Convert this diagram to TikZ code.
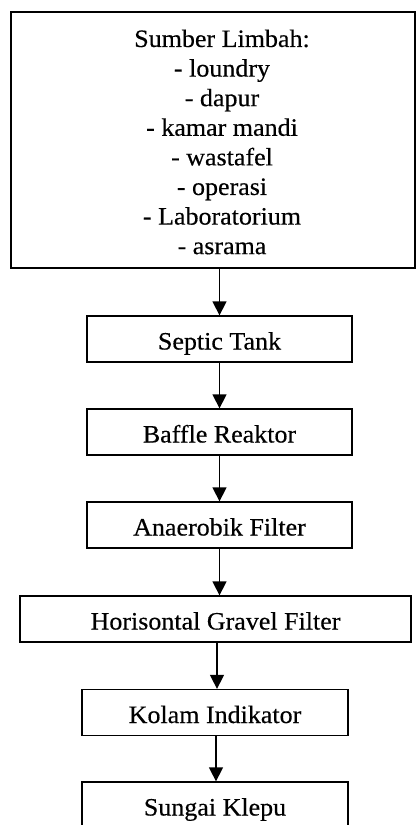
\documentclass[tikz,border=0pt]{standalone}
\usepackage{fontspec}
\setmainfont[FakeStretch=1.04,FakeBold=0.4]{Liberation Serif}
\usetikzlibrary{arrows.meta}
\begin{document}
\begin{tikzpicture}[x=1pt,y=-1pt,
  lbl/.style={font=\fontsize{25}{29.6}\selectfont},
  box/.style={draw, line width=1.3pt, minimum height=46pt, inner sep=0pt,
    text height=21pt, text depth=0pt, lbl},
  flow/.style={-{Triangle[length=14pt,width=14pt]}, line width=1.4pt}]
\useasboundingbox (0,0) rectangle (418,825);
% waste sources
\node[draw, line width=1.3pt, minimum width=404pt, minimum height=256pt] (src) at (213,140) {};
\node[lbl, align=center, inner sep=0pt, anchor=north] (srctxt) at (222,29.4)
  {Sumber Limbah:\\- loundry\\- dapur\\- kamar mandi\\- wastafel\\- operasi\\- Laboratorium\\- asrama};
% treatment chain
\node[box, minimum width=265pt] (septic) at (219.5,339) {Septic Tank};
\node[box, minimum width=265pt] (baffle) at (219.5,432) {Baffle Reaktor};
\node[box, minimum width=265pt] (anaer)  at (219.5,525) {Anaerobik Filter};
\node[box, minimum width=391pt] (gravel) at (215.5,619) {Horisontal Gravel Filter};
\node[box, minimum width=266pt] (kolam)  at (215,712.5) {Kolam Indikator};
\node[box, minimum width=266pt] (sungai) at (215,805) {Sungai Klepu};
% flow arrows
\draw[flow] (septic.north |- src.south) -- (septic.north);
\draw[flow] (septic.south) -- (baffle.north);
\draw[flow] (baffle.south) -- (anaer.north);
\draw[flow] (anaer.south) -- (anaer.south |- gravel.north);
\draw[flow] (kolam.north |- gravel.south) ++(2,0) coordinate (g1) -- (g1 |- kolam.north);
\draw[flow] (kolam.south) ++(1,0) coordinate (k1) -- (k1 |- sungai.north);
\end{tikzpicture}
\end{document}
